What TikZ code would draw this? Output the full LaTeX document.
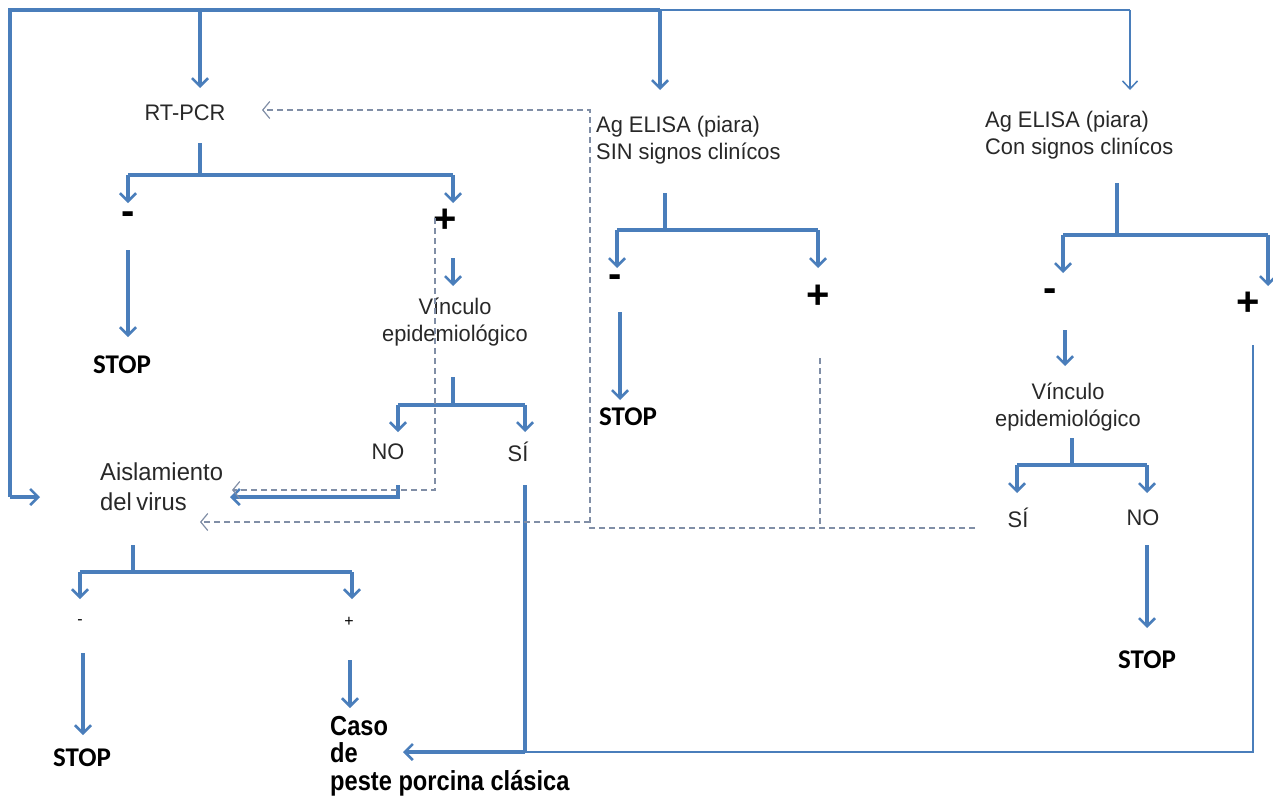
\documentclass[tikz,border=0pt]{standalone}
\usepackage{fontspec}
\usetikzlibrary{arrows.meta}
\newfontfamily\labfont{Liberation Sans}[FakeStretch=0.97]
\newfontfamily\stopfont{Carlito}
\newfontfamily\casofont{Liberation Sans}[FakeStretch=0.86]
\newfontfamily\signfont{Liberation Sans}
\definecolor{lc}{RGB}{74,126,187}
\definecolor{dc}{RGB}{128,142,166}
\definecolor{tc}{RGB}{40,40,40}
\tikzset{
  ln/.style={draw=lc, line width=3.2pt, line join=miter},
  lnt/.style={draw=lc, line width=1.7pt},
  tip/.style={-{Straight Barb[length=8pt,width=16pt,line width=2.6pt]}},
  tipt/.style={-{Straight Barb[length=8pt,width=15pt,line width=1.5pt]}},
  dsh/.style={draw=dc, line width=1.3pt, dash pattern=on 6pt off 4pt},
  dtip/.style={-{Straight Barb[length=7pt,width=17pt,line width=1.2pt]}},
  lab/.style={font=\labfont\fontsize{22.5}{27}\selectfont, text=tc, inner sep=0pt},
  stopn/.style={font=\stopfont\bfseries\fontsize{27}{30}\selectfont, text=black, inner sep=0pt},
  bigsign/.style={font=\signfont\bfseries\fontsize{40}{40}\selectfont, text=black, inner sep=0pt},
  smallsign/.style={font=\signfont\fontsize{16}{16}\selectfont, text=black, inner sep=0pt},
}
\begin{document}
\begin{tikzpicture}[x=1pt,y=-1pt]
\useasboundingbox (0,0) rectangle (1273,803);
% ---------- nodes ----------
\node[lab] (pcr) at (185,113) {RT-PCR};
\node[lab, align=left, anchor=west] (sin) at (596,140) {Ag ELISA (piara)\\SIN signos clinícos};
\node[lab, align=left, anchor=west] (con) at (985,135) {Ag ELISA (piara)\\Con signos clinícos};
\node[bigsign] (pm) at (128,218) {-};
\node[bigsign] (pp) at (445,221) {+};
\node[stopn] (stop1) at (122,365) {STOP};
\node[lab, align=center] (vin1) at (455,322) {Vínculo\\epidemiológico};
\node[lab] (no1) at (388,452) {NO};
\node[lab] (si1) at (518,452) {SÍ};
\node[lab, align=left, anchor=west, font=\labfont\fontsize{24.5}{30}\selectfont] (ais) at (100,487) {Aislamiento\\del\hspace{-2pt} virus};
\node[smallsign] (am) at (80,622) {-};
\node[smallsign] (ap) at (349,622) {+};
\node[stopn] (stop2) at (82,758) {STOP};
\node[anchor=north west, align=left, inner sep=0pt, font=\casofont\bfseries\fontsize{27.5}{27.5}\selectfont] (caso) at (330,716) {Caso\\de\\peste porcina clásica};
\node[bigsign] (sm) at (615,281) {-};
\node[bigsign] (sp) at (818,297) {+};
\node[stopn] (stop3) at (628,417) {STOP};
\node[bigsign] (cm) at (1050,295) {-};
\node[bigsign] (cp) at (1248,304) {+};
\node[lab, align=center] (vin2) at (1068,407) {Vínculo\\epidemiológico};
\node[lab] (si2) at (1018,518) {SÍ};
\node[lab] (no2) at (1143,518) {NO};
\node[stopn] (stop4) at (1147,660) {STOP};
% ---------- coordinates ----------
\coordinate (tl) at (10,10);
\coordinate (tpcr) at (200,10);
\coordinate (tsin) at (660,10);
\coordinate (tcon) at (1130,10);
\coordinate (bl) at (10,497);
\coordinate (aisin) at (40,497);
% ---------- top distribution ----------
\draw[ln] (tsin) -- (tl) -- (bl);
\draw[ln,tip] (bl) -- (aisin);
\draw[ln,tip] (tpcr) -- (200,88);
\draw[ln,tip] (tsin) -- (660,90);
\draw[lnt] (tsin) -- (tcon);
\draw[lnt,tipt] (tcon) -- (1130,90);
% ---------- RT-PCR tree ----------
\draw[ln] (200,143) -- (200,175);
\draw[ln] (128,175) -- (453,175);
\draw[ln,tip] (128,175) -- (128,203);
\draw[ln,tip] (453,175) -- (453,203);
\draw[ln,tip] (128,250) -- (128,337);
\draw[ln,tip] (453,258) -- (453,286);
\draw[ln] (453,377) -- (453,405);
\draw[ln] (398,405) -- (525,405);
\draw[ln,tip] (398,405) -- (398,432);
\draw[ln,tip] (525,405) -- (525,432);
\draw[ln,tip] (398,485) -- (398,497) -- (230,497);
\draw[ln] (525,485) -- (525,752);
% ---------- Aislamiento tree ----------
\draw[ln] (133,545) -- (133,572);
\draw[ln] (80,572) -- (352,572);
\draw[ln,tip] (80,572) -- (80,599);
\draw[ln,tip] (352,572) -- (352,599);
\draw[ln,tip] (83,653) -- (83,735);
\draw[ln,tip] (350,660) -- (350,708);
% ---------- ELISA SIN tree ----------
\draw[ln] (665,193) -- (665,230);
\draw[ln] (617,230) -- (818,230);
\draw[ln,tip] (617,230) -- (617,268);
\draw[ln,tip] (818,230) -- (818,268);
\draw[ln,tip] (620,312) -- (620,400);
% ---------- ELISA Con tree ----------
\draw[ln] (1117,183) -- (1117,235);
\draw[ln] (1063,235) -- (1268,235);
\draw[ln,tip] (1063,235) -- (1063,273);
\draw[ln,tip] (1268,235) -- (1268,286);
\draw[ln,tip] (1065,330) -- (1065,366);
\draw[ln] (1072,438) -- (1072,465);
\draw[ln] (1017,465) -- (1147,465);
\draw[ln,tip] (1017,465) -- (1017,493);
\draw[ln,tip] (1147,465) -- (1147,493);
\draw[ln,tip] (1147,545) -- (1147,628);
% ---------- to Caso ----------
\draw[draw=lc, line width=2pt] (1253,345) -- (1253,752) -- (525,752);
\draw[ln,tip] (525,752) -- (403,752);
% ---------- dashed ----------
\draw[dsh,dtip] (435,218) -- (435,490) -- (232,490);
\draw[dsh,dtip] (975,528) -- (590,528) -- (590,110) -- (262,110);
\draw[dsh,dtip] (590,522) -- (200,522);
\draw[dsh] (820,358) -- (820,526);
\end{tikzpicture}
\end{document}
